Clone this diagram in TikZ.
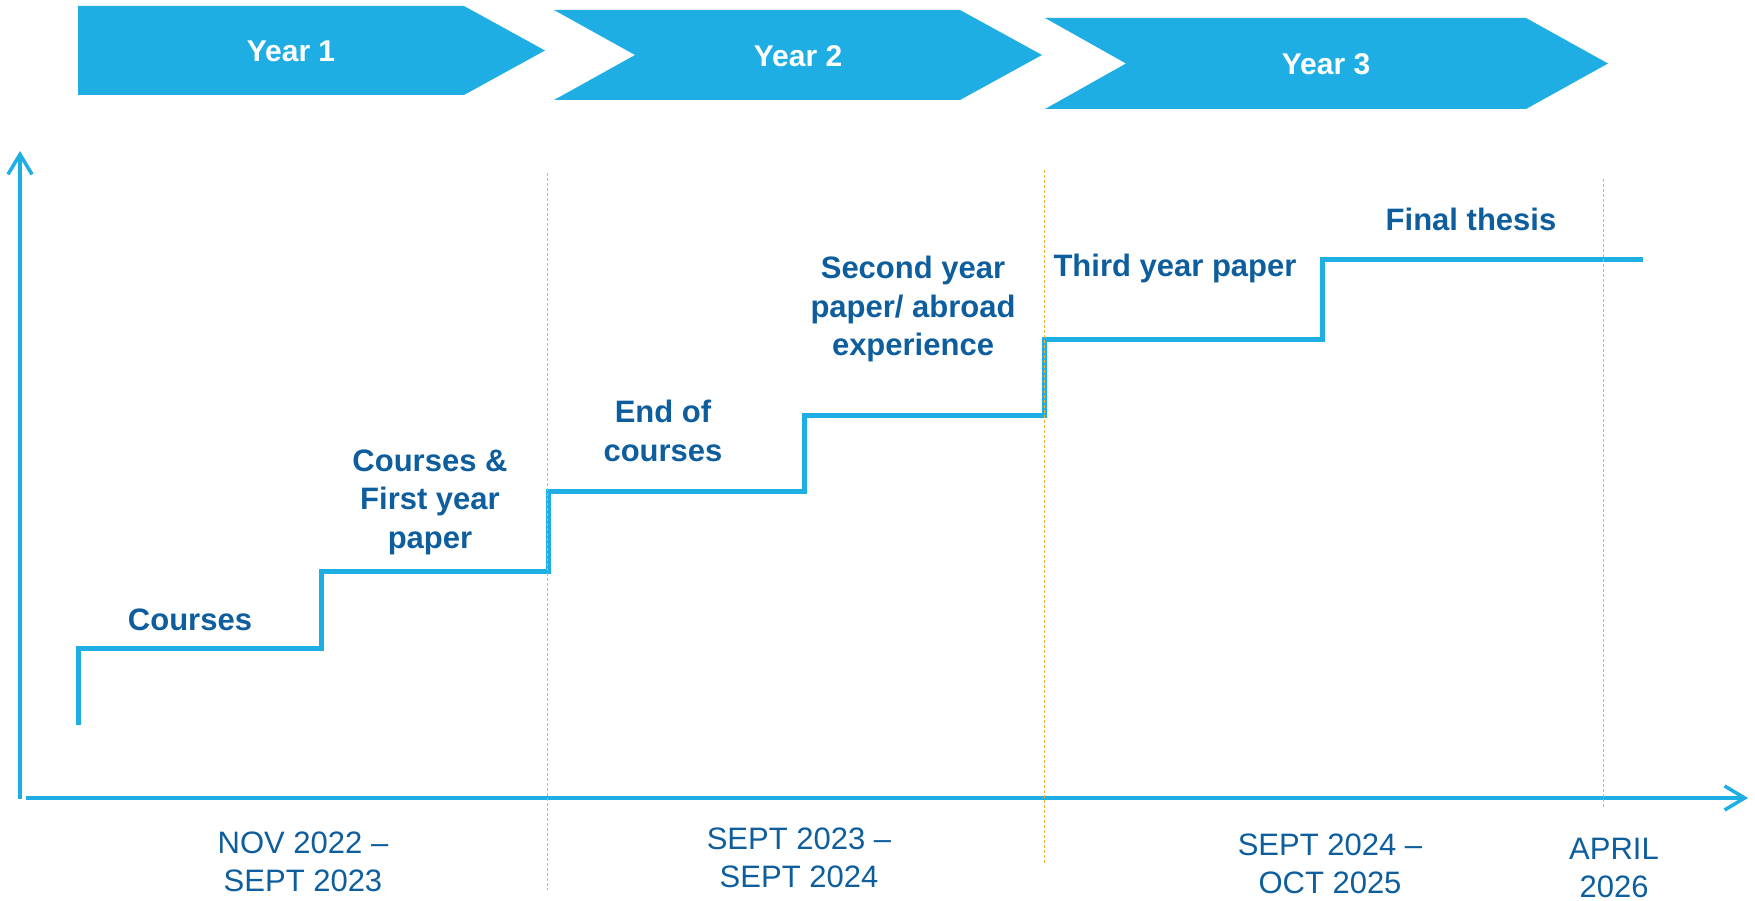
\documentclass[tikz,border=0pt]{standalone}
\usepackage{fontspec}
\setmainfont{Liberation Sans}
\usetikzlibrary{arrows.meta}
\definecolor{cblue}{RGB}{31,174,228}
\definecolor{tblue}{RGB}{14,94,158}
\definecolor{gold}{RGB}{240,178,50}
\begin{document}
\begin{tikzpicture}[x=1pt,y=-1pt,
  lbl/.style={font=\fontsize{31}{38.5}\selectfont\bfseries, text=tblue, align=center, inner sep=0pt},
  datelbl/.style={font=\fontsize{31}{38}\selectfont, text=tblue, align=center, inner sep=0pt},
  yearlbl/.style={font=\fontsize{30}{36}\selectfont\bfseries, text=white, inner sep=0pt},
  chev/.style={fill=cblue, draw=none},
  axis/.style={draw=cblue, line width=3.5pt, -{Straight Barb[length=20pt,width=24pt,line width=3.5pt]}},
  stairs/.style={draw=cblue, line width=5pt},
  guide/.style={draw=gold, line width=1pt, dash pattern=on 3pt off 2pt}]
\useasboundingbox (0,0) rectangle (1755,901);

% chevrons
\fill[chev] (78,6) -- (464,6) -- (545,50.5) -- (464,95) -- (78,95) -- cycle;
\fill[chev] (554,10) -- (960,10) -- (1042,55) -- (960,100) -- (554,100) -- (635,55) -- cycle;
\fill[chev] (1045,18) -- (1526,18) -- (1608,63.5) -- (1526,109) -- (1045,109) -- (1126,63.5) -- cycle;
\node[yearlbl] (y1) at (291,51) {Year 1};
\node[yearlbl] (y2) at (798,56) {Year 2};
\node[yearlbl] (y3) at (1326,64) {Year 3};

% axes
\coordinate (yo) at (20,799);
\coordinate (ytop) at (20,151);
\coordinate (xo) at (26,798);
\coordinate (xend) at (1748,798);
\draw[axis] (yo) -- (ytop);
\draw[axis] (xo) -- (xend);

% stairs
\draw[stairs] (78,725) |- (321,648) |- (548,571) |- (804,491) |- (1044,415) |- (1322,339) |- (1643,260);

% guides
\draw[guide] (547,173) -- (547,890);
\draw[guide] (1044,170) -- (1044,865);
\draw[guide] (1603,179) -- (1603,808);

% labels
\node[lbl] (l1) at (190,620) {Courses};
\node[lbl] (l2) at (430,502) {Courses \&\\First year\\paper};
\node[lbl] (l3) at (663,431) {End of\\courses};
\node[lbl] (l4) at (913,309) {Second year\\paper/ abroad\\experience};
\node[lbl] (l5) at (1175,268) {Third year paper};
\node[lbl] (l6) at (1471,219) {Final thesis};

% dates
\node[datelbl] (d1) at (303,862) {NOV 2022 --\\SEPT 2023};
\node[datelbl] (d2) at (799,858) {SEPT 2023 --\\SEPT 2024};
\node[datelbl] (d3) at (1330,864) {SEPT 2024 --\\OCT 2025};
\node[datelbl] (d4) at (1614,868) {APRIL\\2026};
\end{tikzpicture}
\end{document}
